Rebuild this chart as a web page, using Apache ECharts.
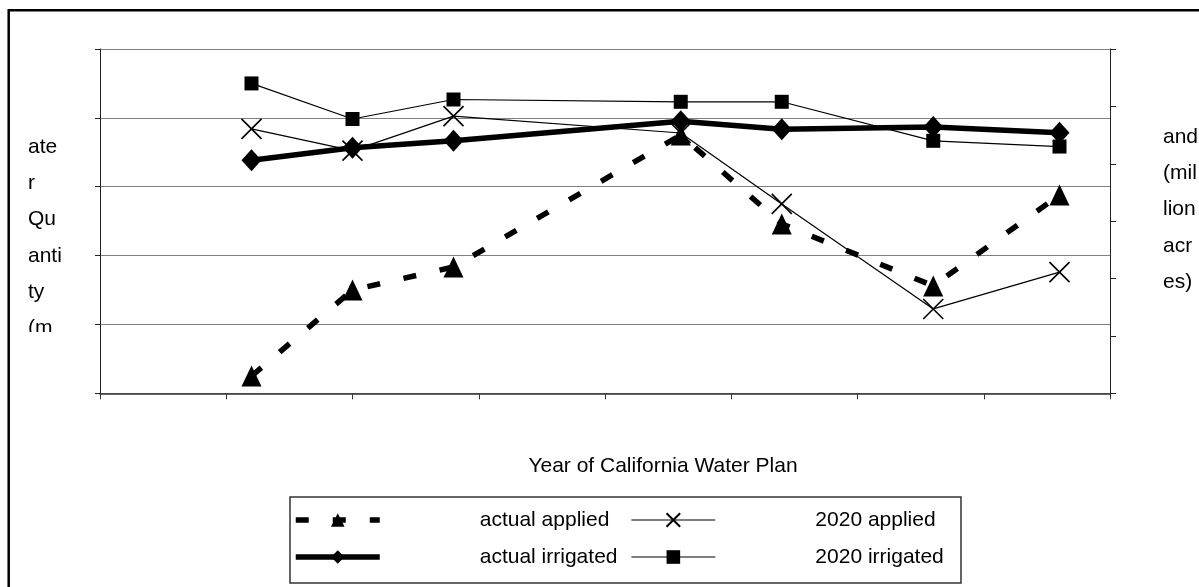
<!DOCTYPE html>
<html>
<head>
<meta charset="utf-8">
<script src="https://cdn.jsdelivr.net/npm/echarts@6/dist/echarts.min.js"></script>
<style>
html,body{margin:0;padding:0;background:#fff;}
#chart{width:1199px;height:587px;}
</style>
</head>
<body>
<div id="chart"></div>
<script>
// ---- data ----
const years = [1966, 1970, 1974, 1983, 1987, 1993, 1998];
const actualApplied     = [24.50, 27.00, 27.67, 31.50, 28.92, 27.12, 29.76];
const plan2020Applied   = [31.68, 31.05, 32.05, 31.56, 29.50, 26.45, 27.52];
const actualIrrigated   = [9.53, 9.64, 9.70, 9.87, 9.80, 9.82, 9.77];
const plan2020Irrigated = [10.20, 9.89, 10.06, 10.04, 10.04, 9.70, 9.65];

const seriesNames = ['actual applied', '2020 applied', 'actual irrigated', '2020 irrigated'];
const xTitle = 'Year of California Water Plan';
const leftTitleLines = ['ate', 'r', 'Qu', 'anti', 'ty', '(m'];
const rightTitleLines = ['and', '(mil', 'lion', 'acr', 'es)'];

const FONT = '"Liberation Sans", Arial, sans-serif';
const pairs = arr => years.map((y, i) => [y, arr[i]]);
const X_PATH = 'path://M0,0L20,20M20,0L0,20';

const chart = echarts.init(document.getElementById('chart'), null, {renderer: 'canvas'});
chart.setOption({
  animation: false,
  backgroundColor: '#fff',
  grid: {left: 100, right: 89, top: 49, height: 344.3},
  xAxis: {
    type: 'value', min: 1960, max: 2000, interval: 5,
    axisLine: {show: true, onZero: false, lineStyle: {color: '#333', width: 1.5}},
    axisTick: {show: true, inside: false, length: 6, lineStyle: {color: '#333'}},
    axisLabel: {show: false},
    splitLine: {show: false}
  },
  yAxis: [
    {
      type: 'value', min: 24, max: 34, interval: 2, position: 'left',
      axisLine: {show: true, lineStyle: {color: '#222', width: 1}},
      axisTick: {show: true, inside: false, length: 5, lineStyle: {color: '#222'}},
      axisLabel: {show: false},
      splitLine: {show: true, lineStyle: {color: '#808080', width: 1.2}}
    },
    {
      type: 'value', min: 7.5, max: 10.5, interval: 0.5, position: 'right',
      axisLine: {show: true, lineStyle: {color: '#222', width: 1}},
      axisTick: {show: true, inside: false, length: 6, lineStyle: {color: '#222'}},
      axisLabel: {show: false},
      splitLine: {show: false}
    }
  ],
  legend: {
    data: seriesNames,
    left: 293, top: 503.5, width: 680,
    orient: 'horizontal',
    padding: 0,
    itemGap: 4,
    itemWidth: 84, itemHeight: 17,
    lineStyle: {width: 'inherit', type: 'inherit'},
    textStyle: {
      fontFamily: FONT, fontSize: 21, color: '#000',
      padding: [0, 0, 0, 95], width: 147, lineHeight: 33
    }
  },
  series: [
    {
      name: seriesNames[0], type: 'line', yAxisIndex: 0, data: pairs(actualApplied),
      symbol: 'triangle', symbolSize: [20, 21],
      lineStyle: {color: '#000', width: 5.5, type: [13, 24]},
      itemStyle: {color: '#000'}, z: 2
    },
    {
      name: seriesNames[1], type: 'line', yAxisIndex: 0, data: pairs(plan2020Applied),
      symbol: X_PATH, symbolSize: 20,
      lineStyle: {color: '#000', width: 1.2},
      itemStyle: {color: 'rgba(0,0,0,0)', borderColor: '#000', borderWidth: 1.6}, z: 3
    },
    {
      name: seriesNames[2], type: 'line', yAxisIndex: 1, data: pairs(actualIrrigated),
      symbol: 'diamond', symbolSize: [20, 22],
      lineStyle: {color: '#000', width: 5.5},
      itemStyle: {color: '#000'}, z: 4
    },
    {
      name: seriesNames[3], type: 'line', yAxisIndex: 1, data: pairs(plan2020Irrigated),
      symbol: 'rect', symbolSize: 14,
      lineStyle: {color: '#000', width: 1.2},
      itemStyle: {color: '#000'}, z: 5
    }
  ],
  graphic: [
    {type: 'rect', silent: true, shape: {x: 8.7, y: 10.3, width: 1400, height: 800},
     style: {fill: 'none', stroke: '#000', lineWidth: 2.5}},
    {type: 'rect', silent: true, shape: {x: 290, y: 497, width: 671, height: 86},
     style: {fill: 'none', stroke: '#333', lineWidth: 1.5}},
    {type: 'text', silent: true, x: 663, y: 466,
     style: {text: xTitle, font: '21px ' + FONT, fill: '#000', align: 'center', verticalAlign: 'middle'}},
    {type: 'text', silent: true, x: 28, y: 128.85,
     style: {text: leftTitleLines.join('\n'), font: '21px ' + FONT, lineHeight: 36.3, fill: '#000', align: 'left', verticalAlign: 'top'}},
    {type: 'rect', silent: true, shape: {x: 15, y: 332, width: 70, height: 20}, style: {fill: '#fff'}},
    {type: 'text', silent: true, x: 1163, y: 118.85,
     style: {text: rightTitleLines.join('\n'), font: '21px ' + FONT, lineHeight: 36.3, fill: '#000', align: 'left', verticalAlign: 'top'}}
  ]
});
</script>
</body>
</html>
